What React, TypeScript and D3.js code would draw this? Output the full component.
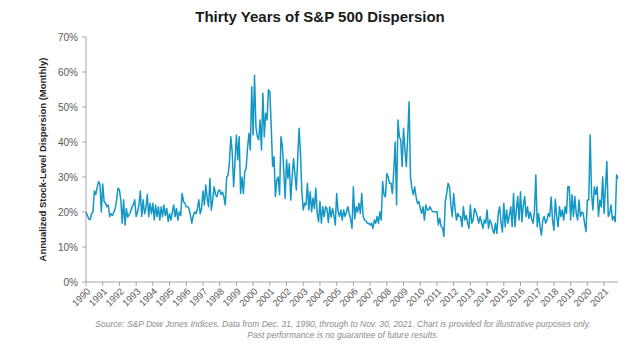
import React from "react";
import * as d3 from "d3";

const years: string[] = Array.from({ length: 32 }, (_, k) => String(1990 + k));
const yTicks: number[] = [0, 10, 20, 30, 40, 50, 60, 70];

// Monthly dispersion (%), Jan 1990 .. Nov 2021, one row per year
const v1990 = [20, 19, 18, 17.8, 19.5, 20, 26, 25, 27, 28.7, 28, 20];
const v1991 = [28, 23, 22.5, 21.5, 22, 18.7, 19.5, 19, 20, 21, 23.5, 26.8];
const v1992 = [26.3, 23.5, 16.8, 23.5, 16.3, 21, 18.5, 19.3, 20, 21.5, 22, 23.5];
const v1993 = [18.7, 20, 22, 26, 18.7, 23.5, 19.5, 21, 25, 18.7, 22.5, 19.5];
const v1994 = [22.5, 17.7, 22, 18.7, 21.5, 17.7, 21.5, 18.7, 22, 19, 21, 17.3];
const v1995 = [19.5, 17.7, 20, 22, 18.7, 21, 17.7, 20, 19, 25.3, 23, 22.5];
const v1996 = [21.5, 21.5, 21, 19, 16.8, 19, 20, 19.5, 21, 23.5, 19.5, 21];
const v1997 = [26, 22, 27.7, 24, 21.5, 29.6, 20.5, 23.5, 27.2, 25, 24.3, 26];
const v1998 = [26.3, 25, 25.7, 24.3, 22, 30, 30.5, 34.4, 41.5, 37, 27.2, 34.4];
const v1999 = [42, 34.9, 41.5, 25.3, 30, 25.3, 31.5, 32.5, 38.2, 42.5, 37.7, 55.8];
const v2000 = [42, 59.1, 44.4, 41.5, 40.6, 46.3, 37.7, 53.9, 41.5, 48.2, 46.3, 54.9];
const v2001 = [54.4, 44.4, 33, 35.8, 24.4, 29.1, 30, 24.9, 41.5, 38.7, 32, 23.9];
const v2002 = [34.9, 29.6, 33.8, 23.4, 30, 35.3, 31, 26.3, 35, 43.9, 36.7, 25.8];
const v2003 = [20.6, 22.5, 22, 28.2, 20.6, 25.8, 20.1, 24, 21, 26.8, 19.6, 17.2];
const v2004 = [23, 16.8, 21.5, 18.7, 21.5, 21, 17, 21.5, 18.5, 21, 19, 16.3];
const v2005 = [25.3, 20, 18.7, 20.6, 17.7, 20.6, 18.7, 20, 21.5, 19.6, 18, 15.3];
const v2006 = [27.2, 18, 21.5, 20, 22.5, 19.6, 25.3, 18.7, 17.7, 17.5, 16.8, 16.8];
const v2007 = [16.3, 16.8, 15.3, 17.7, 16.8, 18.7, 16.8, 20, 17.7, 28.7, 24.9, 24.3];
const v2008 = [31, 30, 28.2, 28.2, 25.3, 31.6, 40, 22, 46.3, 41.5, 40.6, 33];
const v2009 = [43.9, 37.7, 33, 41.5, 51.5, 30, 26.8, 24.9, 27.2, 24.4, 22.5, 23];
const v2010 = [21, 19.6, 21.5, 17.7, 22, 20.6, 20.6, 21.5, 20.6, 20.1, 20.1, 20.1];
const v2011 = [20.1, 16.3, 18.2, 15.8, 15.5, 13, 23, 25.3, 28.2, 27.2, 22, 18.7];
const v2012 = [25.3, 21, 17.7, 19.6, 18.7, 18.7, 15.8, 21.5, 17.7, 19, 17, 15.3];
const v2013 = [22, 16.8, 17.7, 21, 20, 18.7, 16.8, 18.7, 17, 15.3, 17.7, 16.8];
const v2014 = [20.6, 15.3, 17.7, 16.8, 15, 13.9, 16.8, 13.9, 19.6, 21.5, 17, 14.3];
const v2015 = [22.5, 15.8, 20.6, 16.8, 19, 21.5, 15.8, 25.3, 15.8, 20.6, 24.4, 17.7];
const v2016 = [25.8, 17.2, 22, 24.4, 18.7, 21.5, 18.2, 20, 18, 16.8, 20.1, 30.6];
const v2017 = [15.8, 19.6, 15.8, 13.4, 17.7, 18.7, 16.8, 17.7, 19.6, 18.7, 24.3, 17.7];
const v2018 = [14.8, 23.6, 18.7, 15.8, 21.5, 18.7, 20.6, 17.7, 21.5, 19.6, 27.2, 27.2];
const v2019 = [17.7, 24.9, 18.7, 24.4, 19.6, 17.7, 23.4, 18.7, 20, 19.6, 16.8, 14.4];
const v2020 = [23.4, 23.4, 42, 25.3, 20.6, 27.2, 25, 27.2, 18.7, 23.4, 21.5, 30];
const v2021 = [19.6, 27.2, 34.4, 18.7, 19.6, 22, 17.7, 18.7, 17.2, 30.6, 29.6];

const dispersion: number[] = [
  ...v1990, ...v1991, ...v1992, ...v1993, ...v1994, ...v1995, ...v1996, ...v1997,
  ...v1998, ...v1999, ...v2000, ...v2001, ...v2002, ...v2003, ...v2004, ...v2005,
  ...v2006, ...v2007, ...v2008, ...v2009, ...v2010, ...v2011, ...v2012, ...v2013,
  ...v2014, ...v2015, ...v2016, ...v2017, ...v2018, ...v2019, ...v2020, ...v2021,
];

const W = 644;
const H = 357;
const left = 86;
const right = 618;
const top = 37;
const bottom = 282;
const FONT = "'Liberation Sans', Arial, sans-serif";

export default function App() {
  const n = dispersion.length;
  const x = d3.scaleLinear().domain([0, n - 1]).range([left, right]);
  const y = d3.scaleLinear().domain([0, 70]).range([bottom, top]);
  const line = d3
    .line<number>()
    .x((_, i) => x(i))
    .y((d) => y(d))
    .curve(d3.curveLinear);
  const axisColor = "#a6a6a6";
  const labelColor = "#595959";

  return (
    <svg
      width={W}
      height={H}
      viewBox={`0 0 ${W} ${H}`}
      style={{ position: "absolute", left: 0, top: 0, background: "#fff" }}
      fontFamily={FONT}
    >
      <text x={320} y={22} textAnchor="middle" fontSize={15} fontWeight="bold" fill="#1a1a1a">
        Thirty Years of S&amp;P 500 Dispersion
      </text>

      {/* Y axis */}
      <line x1={left} x2={left} y1={top} y2={bottom} stroke={axisColor} strokeWidth={1} />
      {yTicks.map((t) => (
        <g key={t}>
          <line x1={left - 4} x2={left} y1={y(t)} y2={y(t)} stroke={axisColor} />
          <text x={left - 8} y={y(t) + 3.5} textAnchor="end" fontSize={10} fill={labelColor}>
            {t}%
          </text>
        </g>
      ))}
      <text
        transform={`translate(46,${(top + bottom) / 2}) rotate(-90)`}
        textAnchor="middle"
        fontSize={9.5}
        fontWeight="bold"
        fill="#262626"
      >
        Annualized Stock-Level Dispersion (Monthly)
      </text>

      {/* X axis */}
      <line x1={left} x2={right} y1={bottom} y2={bottom} stroke={axisColor} strokeWidth={1} />
      {years.map((yr, k) => {
        const xp = x(k * 12);
        return (
          <g key={yr}>
            <line x1={xp} x2={xp} y1={bottom} y2={bottom + 4} stroke={axisColor} />
            <text
              transform={`translate(${xp + 5},${bottom + 10}) rotate(-45)`}
              textAnchor="end"
              fontSize={9.5}
              fill={labelColor}
            >
              {yr}
            </text>
          </g>
        );
      })}

      <path d={line(dispersion) || ""} fill="none" stroke="#1297c6" strokeWidth={1.5} strokeLinejoin="round" />

      <text x={343} y={327} textAnchor="middle" fontSize={8.5} fontStyle="italic" fill="#8c8c8c">
        Source: S&amp;P Dow Jones Indices. Data from Dec. 31, 1990, through to Nov. 30, 2021. Chart is provided for illustrative purposes only.
      </text>
      <text x={343} y={338} textAnchor="middle" fontSize={8.5} fontStyle="italic" fill="#8c8c8c">
        Past performance is no guarantee of future results.
      </text>
    </svg>
  );
}
